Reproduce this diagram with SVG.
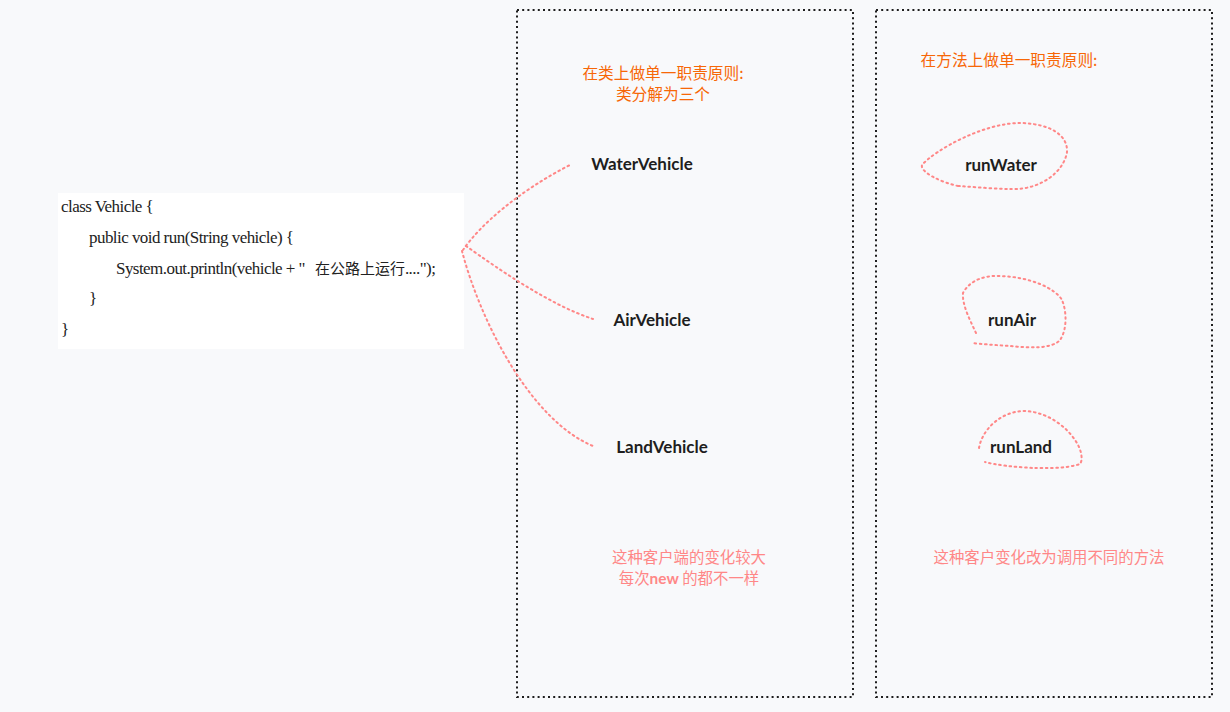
<svg xmlns="http://www.w3.org/2000/svg" width="1230" height="712" viewBox="0 0 1230 712">
<style>
.frame{fill:none;stroke:#1e1e1e;stroke-width:2;stroke-dasharray:2 3.2}
.conn{fill:none;stroke:#ff8787;stroke-width:2;stroke-dasharray:1.6 3.6;stroke-linecap:round}
.code{font-family:"Liberation Serif",serif;font-size:17px;fill:#222;letter-spacing:-0.55px}
.lbl{font-family:"Lato","Noto Sans",sans-serif;font-weight:700;font-size:17px;fill:#1e1e1e;text-anchor:middle}
.head{font-family:"Noto Sans CJK SC",sans-serif;font-size:15.7px;fill:#f76707;text-anchor:middle}
.note{font-family:"Noto Sans CJK SC",sans-serif;font-size:15.4px;fill:#ff8787;text-anchor:middle}
</style>
<rect width="1230" height="712" fill="#f8f9fb"/>
<g id="frame-class"><rect class="frame" x="517" y="10" width="336" height="687"/></g>
<g id="frame-method"><rect class="frame" x="876" y="10" width="336" height="687"/></g>
<g id="code-vehicle">
<rect x="58" y="193" width="406" height="156" fill="#ffffff"/>
<text class="code" x="61" y="212">class Vehicle {</text>
<text class="code" x="89" y="243">public void run(String vehicle) {</text>
<text class="code" x="116" y="274">System.out.println(vehicle + "<tspan dx="10" font-family="Noto Sans CJK SC,sans-serif" font-size="15" letter-spacing="0">在公路上运行</tspan>....");</text>
<text class="code" x="89" y="304">}</text>
<text class="code" x="61" y="335">}</text>
</g>
<g id="connectors">
<path class="conn" d="M463 250 C480 225 520 190 572 164"/>
<path class="conn" d="M466 246 C500 270 550 305 593 319"/>
<path class="conn" d="M462 251 C480 320 530 420 593 446"/>
</g>
<g id="head-class"><text class="head" x="663" y="79">在类上做单一职责原则:</text><text class="head" x="663" y="100">类分解为三个</text></g>
<g id="head-method"><text class="head" x="1009" y="66">在方法上做单一职责原则:</text></g>
<g id="water-vehicle"><text class="lbl" x="642" y="170">WaterVehicle</text></g>
<g id="air-vehicle"><text class="lbl" x="652" y="326">AirVehicle</text></g>
<g id="land-vehicle"><text class="lbl" x="662" y="453">LandVehicle</text></g>
<g id="run-water">
<path class="conn" d="M958 186 C940 182 920 172 922 165 C935 150 985 122 1022 123 C1050 124 1068 135 1067 152 C1064 172 1040 190 1012 189 C995 189 975 187 958 186"/>
<text class="lbl" x="1001" y="171">runWater</text>
</g>
<g id="run-air">
<path class="conn" d="M976 333 C970 320 962 305 963 293 C970 280 985 275 1000 276 C1030 277 1055 288 1062 300 C1067 312 1067 330 1060 340 C1052 349 1030 348 1010 346 C995 345 980 344 972 343"/>
<text class="lbl" x="1012" y="326">runAir</text>
</g>
<g id="run-land">
<path class="conn" d="M979 448 C982 430 1000 412 1023 411 C1045 411 1065 425 1075 440 C1082 450 1083 460 1080 464 C1065 469 1045 468 1033 468 C1015 467 995 465 985 462"/>
<text class="lbl" x="1021" y="453">runLand</text>
</g>
<g id="note-class"><text class="note" x="689" y="563">这种客户端的变化较大</text><text class="note" x="689" y="584">每次<tspan font-family="Lato,sans-serif" font-weight="700">new</tspan> 的都不一样</text></g>
<g id="note-method"><text class="note" x="1049" y="563">这种客户变化改为调用不同的方法</text></g>
</svg>
